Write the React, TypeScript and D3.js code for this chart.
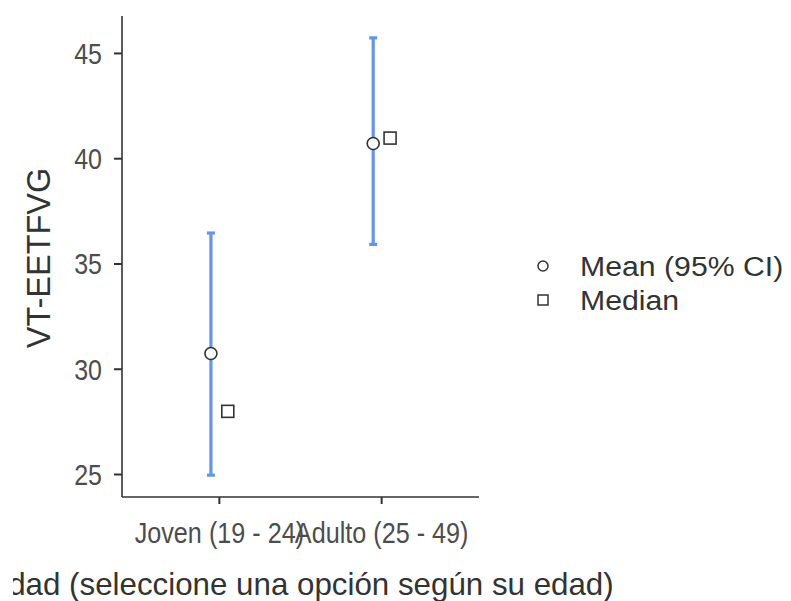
import React from "react";
import * as d3 from "d3";

const categories = ["Joven (19 - 24)", "Adulto (25 - 49)"];
const meanValues = [30.75, 40.72];
const ciLower = [24.97, 35.93];
const ciUpper = [36.47, 45.74];
const medianValues = [28.0, 40.98];
const yTicks = [25, 30, 35, 40, 45];
const legendLabels = ["Mean (95% CI)", "Median"];
const yTitle = "VT-EETFVG";
const xTitle = "Edad (seleccione una opción según su edad)";

const W = 791;
const H = 601;
const left = 122;
const right = 479;
const top = 16;
const bottom = 497;

export default function App() {
  const lo = d3.min(ciLower)!;
  const hi = d3.max(ciUpper)!;
  const pad = (hi - lo) * 0.05;
  const y = d3.scaleLinear().domain([lo - pad, hi + pad]).range([bottom, top]);
  const x = d3.scalePoint<string>().domain(categories).range([left, right]).padding(0.6);
  const off = x.step() * 0.052;
  const font = "Arial, 'Liberation Sans', sans-serif";
  const blue = "#6495ED";
  const ink = "#333333";
  const tickCol = "#4d4d4d";

  return (
    <svg width={W} height={H} style={{ position: "absolute", left: 0, top: 0, background: "#fff" }} fontFamily={font}>
      <defs>
        <clipPath id="xtclip">
          <rect x={13} y={0} width={W - 13} height={H} />
        </clipPath>
      </defs>
      <rect width={W} height={H} fill="#fff" />
      {/* axes */}
      <line x1={left} x2={left} y1={top} y2={bottom} stroke={ink} strokeWidth={1.6} />
      <line x1={left} x2={right} y1={bottom} y2={bottom} stroke={ink} strokeWidth={1.6} />
      {yTicks.map((t) => (
        <g key={t}>
          <line x1={left - 8} x2={left} y1={y(t)} y2={y(t)} stroke={ink} strokeWidth={2} />
          <text
            transform={`translate(102, ${y(t)}) scale(1, 1.15)`}
            dy="0.36em"
            textAnchor="end"
            fontSize={25}
            fill={tickCol}
          >
            {t}
          </text>
        </g>
      ))}
      {categories.map((c) => (
        <g key={c}>
          <line x1={x(c)!} x2={x(c)!} y1={bottom} y2={bottom + 7} stroke={ink} strokeWidth={2} />
          <text
            transform={`translate(${x(c)!}, 543) scale(1, 1.15)`}
            textAnchor="middle"
            fontSize={25.2}
            fill={tickCol}
          >
            {c}
          </text>
        </g>
      ))}
      {/* error bars and points */}
      {categories.map((c, i) => {
        const cx = x(c)! - off;
        const mx = x(c)! + off;
        return (
          <g key={"d" + c}>
            <line x1={cx} x2={cx} y1={y(ciLower[i])} y2={y(ciUpper[i])} stroke={blue} strokeWidth={3.2} />
            <line x1={cx - 4} x2={cx + 4} y1={y(ciLower[i])} y2={y(ciLower[i])} stroke={blue} strokeWidth={3.2} />
            <line x1={cx - 4} x2={cx + 4} y1={y(ciUpper[i])} y2={y(ciUpper[i])} stroke={blue} strokeWidth={3.2} />
            <circle cx={cx} cy={y(meanValues[i])} r={6} fill="#fff" stroke={ink} strokeWidth={1.6} />
            <rect x={mx - 6} y={y(medianValues[i]) - 6} width={12} height={12} fill="#fff" stroke={ink} strokeWidth={1.6} />
          </g>
        );
      })}
      {/* titles */}
      <text transform={`translate(50, 258) rotate(-90)`} textAnchor="middle" fontSize={32.5} fill={ink}>
        {yTitle}
      </text>
      <g clipPath="url(#xtclip)">
        <text x={(left + right) / 2} y={595} textAnchor="middle" fontSize={31.3} fill={ink}>
          {xTitle}
        </text>
      </g>
      {/* legend */}
      <circle cx={543} cy={266} r={5} fill="#fff" stroke={ink} strokeWidth={1.5} />
      <rect x={538} y={295} width={10} height={10} fill="#fff" stroke={ink} strokeWidth={1.5} />
      <text transform="translate(580, 266) scale(1.12, 1)" dy="0.36em" fontSize={27} fill={ink}>
        {legendLabels[0]}
      </text>
      <text transform="translate(580, 300) scale(1.12, 1)" dy="0.36em" fontSize={27} fill={ink}>
        {legendLabels[1]}
      </text>
    </svg>
  );
}
